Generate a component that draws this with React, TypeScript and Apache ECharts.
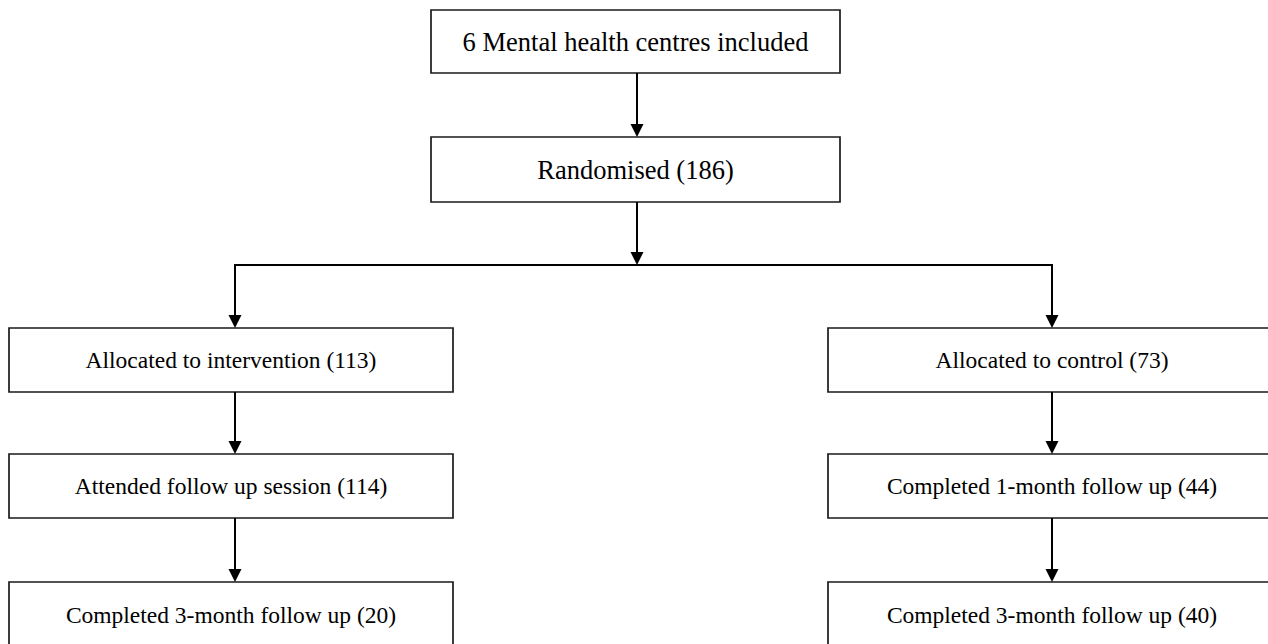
import React, { useEffect, useRef } from "react";
import * as echarts from "echarts";

// ---- Data (flow of participants) ----
const centreCount = 6;
const randomisedCount = 186;
const armNames = ["intervention", "control"];
const allocatedCounts = [113, 73];
const secondStageLabels = ["Attended follow up session", "Completed 1-month follow up"];
const secondStageCounts = [114, 44];
const thirdStageLabel = "Completed 3-month follow up";
const thirdStageCounts = [20, 40];

// ---- Layout (pixels) ----
const centerX = 637;
const topBoxes = [
  { x: 431, y: 10, w: 409, h: 63 },
  { x: 431, y: 137, w: 409, h: 65 },
];
const branchY = 265;
const armCenters = [235, 1052];
const armBoxX = [
  { x: 9, w: 444 },
  { x: 828, w: 448 },
];
const rowY = [
  { y: 328, h: 64 },
  { y: 454, h: 64 },
  { y: 582, h: 66 },
];

const TOP_FONT = '26.5px "Liberation Serif", "Times New Roman", serif';
const ARM_FONT = '23.5px "Liberation Serif", "Times New Roman", serif';
const ARROW_W = 6.5;
const ARROW_H = 13;

function boxEls(x: number, y: number, w: number, h: number, text: string, font: string) {
  return [
    {
      type: "rect",
      shape: { x, y, width: w, height: h },
      style: { fill: "#ffffff", stroke: "#1a1a1a", lineWidth: 1.7 },
      z: 1,
    },
    {
      type: "text",
      x: x + w / 2,
      y: y + h / 2,
      style: {
        text,
        fill: "#000000",
        font,
        textAlign: "center",
        textVerticalAlign: "middle",
        align: "center",
        verticalAlign: "middle",
      },
      z: 2,
    },
  ];
}

function arrowEls(x: number, y1: number, y2: number) {
  return [
    {
      type: "line",
      shape: { x1: x, y1, x2: x, y2: y2 - ARROW_H + 1 },
      style: { stroke: "#000000", lineWidth: 2 },
      z: 3,
    },
    {
      type: "polygon",
      shape: {
        points: [
          [x - ARROW_W, y2 - ARROW_H],
          [x + ARROW_W, y2 - ARROW_H],
          [x, y2],
        ],
      },
      style: { fill: "#000000" },
      z: 3,
    },
  ];
}

export default function App() {
  const ref = useRef<HTMLDivElement>(null);

  useEffect(() => {
    if (!ref.current) return;
    const chart = echarts.init(ref.current, undefined, { renderer: "svg" });

    const elements: any[] = [];
    elements.push(
      ...boxEls(topBoxes[0].x, topBoxes[0].y, topBoxes[0].w, topBoxes[0].h, `${centreCount} Mental health centres included`, TOP_FONT)
    );
    elements.push(...arrowEls(centerX, topBoxes[0].y + topBoxes[0].h, topBoxes[1].y));
    elements.push(
      ...boxEls(topBoxes[1].x, topBoxes[1].y, topBoxes[1].w, topBoxes[1].h, `Randomised (${randomisedCount})`, TOP_FONT)
    );
    elements.push(...arrowEls(centerX, topBoxes[1].y + topBoxes[1].h, branchY));
    elements.push({
      type: "line",
      shape: { x1: armCenters[0] - 1, y1: branchY, x2: armCenters[1] + 1, y2: branchY },
      style: { stroke: "#000000", lineWidth: 2 },
      z: 3,
    });

    armNames.forEach((arm, i) => {
      const cx = armCenters[i];
      const bx = armBoxX[i];
      const texts = [
        `Allocated to ${arm} (${allocatedCounts[i]})`,
        `${secondStageLabels[i]} (${secondStageCounts[i]})`,
        `${thirdStageLabel} (${thirdStageCounts[i]})`,
      ];
      let prevBottom = branchY;
      rowY.forEach((r, j) => {
        elements.push(...arrowEls(cx, prevBottom, r.y));
        elements.push(...boxEls(bx.x, r.y, bx.w, r.h, texts[j], ARM_FONT));
        prevBottom = r.y + r.h;
      });
    });

    chart.setOption({
      animation: false,
      backgroundColor: "#ffffff",
      graphic: { elements },
    });

    return () => {
      chart.dispose();
    };
  }, []);

  return (
    <div
      ref={ref}
      style={{ position: "fixed", left: 0, top: 0, width: 1268, height: 644, background: "#fff" }}
    />
  );
}
